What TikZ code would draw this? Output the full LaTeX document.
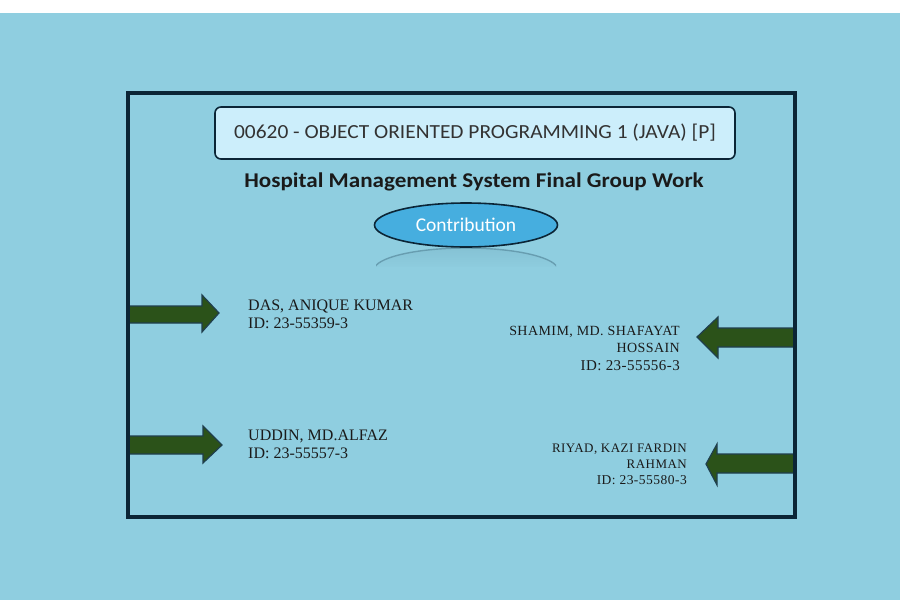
\documentclass[tikz,border=0pt]{standalone}
\usepackage{fontspec}
\setmainfont{Liberation Serif}
\newfontfamily\calib{Carlito}
\usetikzlibrary{shapes.geometric}
\definecolor{bg}{HTML}{8FCEE0}
\definecolor{frame}{HTML}{0B2536}
\definecolor{boxfill}{HTML}{CCEEFB}
\definecolor{ellfill}{HTML}{46AEDF}
\definecolor{arrfill}{HTML}{2B5219}
\definecolor{arrdraw}{HTML}{1F3F4E}
\definecolor{txt}{HTML}{1A1A1A}
\definecolor{refl}{HTML}{5F93A6}
\tikzset{
  arrowshape/.style={fill=arrfill, draw=arrdraw, line width=1.2pt, line join=miter},
  person/.style={font=\fontsize{16}{18}\selectfont, text=txt, inner sep=0pt},
}
\begin{document}
\begin{tikzpicture}[x=1pt,y=-1pt]
\useasboundingbox (0,0) rectangle (900,600);
\fill[white] (0,0) rectangle (900,13);
\fill[bg] (0,13) rectangle (900,600);
% reflection
\begin{scope}
\clip (376,246) rectangle (556,266);
\shade[top color=bg!80!refl, bottom color=bg] (374,270) arc[start angle=180,end angle=360,x radius=92,y radius=22] -- cycle;
\draw[refl, line width=1.4pt, opacity=0.8] (374,270) arc[start angle=180,end angle=360,x radius=92,y radius=22];
\end{scope}
% frame
\draw[frame, line width=4pt] (128,93) rectangle (795,517);
% title box
\node[draw=frame, line width=1.6pt, fill=boxfill, rounded corners=6pt, minimum width=520pt, minimum height=52pt, inner sep=0pt,
  font=\calib\fontsize{20}{22}\selectfont, text=black!80] (title) at (475,133) {\scalebox{1.07}[1]{00620 - OBJECT ORIENTED PROGRAMMING 1 (JAVA) [P]}};
\node[font=\calib\bfseries\fontsize{21}{23}\selectfont, text=txt, inner sep=0pt] (sub) at (474,182) {\scalebox{1.1}[1]{Hospital Management System Final Group Work}};
\node[ellipse, draw=frame, line width=1.6pt, fill=ellfill, minimum width=183pt, minimum height=44pt, inner sep=0pt,
  font=\calib\fontsize{19.5}{21}\selectfont, text=white] (contrib) at (466,225) {Contribution};
% arrows
\draw[arrowshape] (130,306) -- (202,306) -- (202,295) -- (219,313) -- (202,332) -- (202,323) -- (130,323);
\draw[arrowshape] (130,436) -- (203,436) -- (203,426) -- (222,445) -- (203,463) -- (203,454) -- (130,454);
\draw[arrowshape] (794,328) -- (718,328) -- (718,317) -- (697,337) -- (718,358) -- (718,347) -- (794,347);
\draw[arrowshape] (794,454) -- (717,454) -- (717,444) -- (706,464) -- (717,485) -- (717,473) -- (794,473);
\draw[frame, line width=4pt] (128,93) -- (128,517) (795,93) -- (795,517);
% people
\node[person, anchor=base west, align=left] (p1) at (248,328) {DAS, ANIQUE KUMAR\\ID: 23-55359-3};
\node[person, anchor=base west, align=left] (p2) at (248,458) {UDDIN, MD.ALFAZ\\ID: 23-55557-3};
\node[person, anchor=base east, align=right, font=\addfontfeature{LetterSpace=3}\fontsize{14}{17.5}\selectfont] (p3) at (680,370) {SHAMIM, MD. SHAFAYAT\\HOSSAIN\\{\fontsize{15}{17.5}\selectfont ID: 23-55556-3}};
\node[person, anchor=base east, align=right, font=\addfontfeature{LetterSpace=3.5}\fontsize{13}{16}\selectfont] (p4) at (687,484) {RIYAD, KAZI FARDIN\\RAHMAN\\{\fontsize{13.5}{16}\selectfont ID: 23-55580-3}};
\end{tikzpicture}
\end{document}
